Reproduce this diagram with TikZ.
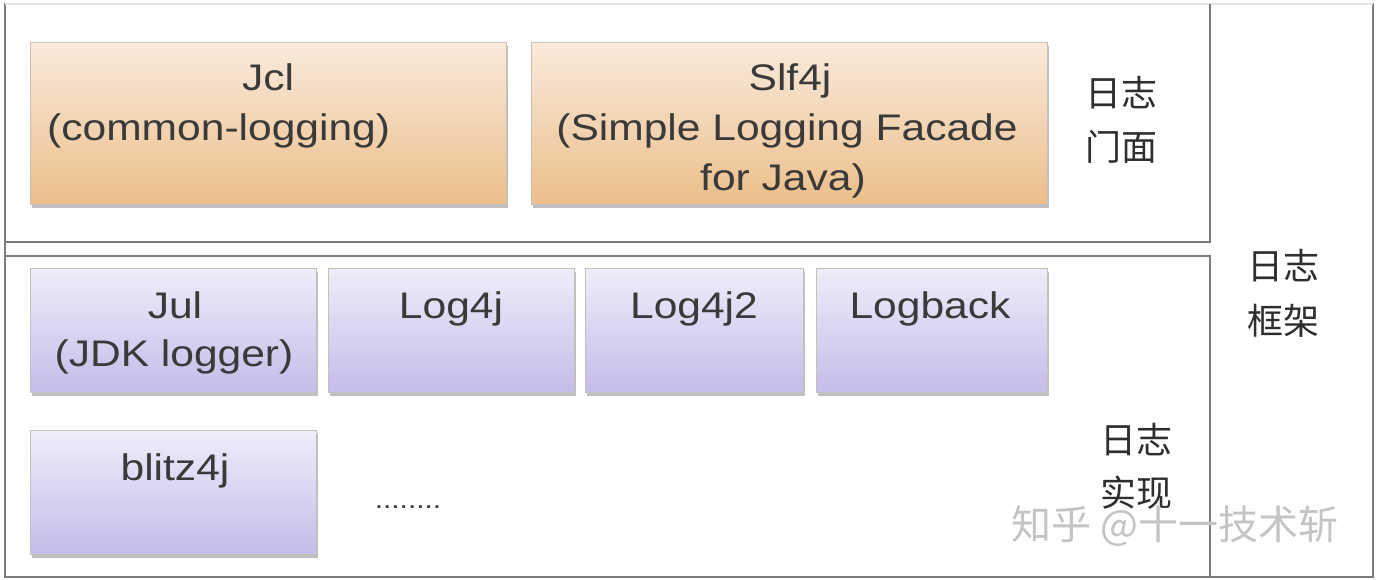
\documentclass[tikz,border=0pt]{standalone}
\usepackage{fontspec}
\setmainfont{Liberation Sans}[FakeStretch=1.15]
\newfontfamily\cjk{Noto Sans CJK SC}
\usetikzlibrary{shadows}
\definecolor{framegray}{HTML}{7C7C7C}
\definecolor{txtgray}{HTML}{3A3A3A}
\definecolor{cjkgray}{HTML}{2E2E2E}
\definecolor{wmgray}{HTML}{C4C4C4}
\definecolor{facadetop}{HTML}{F9EADB}
\definecolor{facadebot}{HTML}{ECBE8A}
\definecolor{impltop}{HTML}{EEEDF9}
\definecolor{implbot}{HTML}{C5BCEA}
\definecolor{boxedge}{HTML}{B8B0A8}
\begin{document}
\begin{tikzpicture}[x=1pt,y=-1pt,
  framebox/.style={draw=framegray,line width=2.5pt},
  facadebox/.style={draw=boxedge!80,line width=0.6pt,top color=facadetop,bottom color=facadebot,
     drop shadow={shadow xshift=1.5pt,shadow yshift=-4pt,opacity=0.45,fill=black!55},
     anchor=north west,inner sep=0pt},
  implbox/.style={draw=boxedge!80,line width=0.6pt,top color=impltop,bottom color=implbot,
     drop shadow={shadow xshift=1.5pt,shadow yshift=-4pt,opacity=0.45,fill=black!55},
     anchor=north west,inner sep=0pt},
  lbl/.style={anchor=base,inner sep=0pt,text=txtgray,font=\fontsize{37}{50}\selectfont},
  cjklbl/.style={anchor=center,inner sep=0pt,text=cjkgray,font=\cjk\fontsize{36}{40}\selectfont},
]
\useasboundingbox (0,0) rectangle (1382,579);
\fill[white] (0,0) rectangle (1382,579);

% frames
\draw[framebox] (5,4) rectangle (1373,577);
\draw[draw=white!80!framegray,line width=2.5pt] (5,4) -- (1373,4);
\draw[framebox] (5,242) -- (1210,242) -- (1210,4);
\draw[framebox] (5,256) -- (1210,256) -- (1210,577);

% facade boxes
\node[facadebox,minimum width=476pt,minimum height=162pt] (jcl) at (30,42) {};
\node[facadebox,minimum width=516pt,minimum height=162pt] (slf) at (531,42) {};

% implementation boxes
\node[implbox,minimum width=286pt,minimum height=124pt] (jul) at (30,268) {};
\node[implbox,minimum width=246pt,minimum height=124pt] (log4j) at (328,268) {};
\node[implbox,minimum width=218pt,minimum height=124pt] (log4j2) at (585,268) {};
\node[implbox,minimum width=231pt,minimum height=124pt] (logback) at (816,268) {};
\node[implbox,minimum width=286pt,minimum height=124pt] (blitz) at (30,430) {};

% texts
\node[lbl] (t1) at (268,90) {Jcl};
\node[lbl,anchor=base west] (t2) at (47,140) {(common-logging)};
\node[lbl] (t3) at (790,90) {Slf4j};
\node[lbl] (t4) at (787,140) {(Simple Logging Facade};
\node[lbl] (t5) at (783,190) {for Java)};
\node[lbl] (t6) at (175,318) {Jul};
\node[lbl] (t7) at (174,366) {(JDK logger)};
\node[lbl] (t8) at (451,318) {Log4j};
\node[lbl] (t9) at (694,318) {Log4j2};
\node[lbl] (t10) at (930,318) {Logback};
\node[lbl] (t11) at (175,480) {blitz4j};
\node[lbl,font=\fontsize{26}{30}\selectfont] (dots) at (408,508) {........};

% chinese labels
\node[cjklbl] (c1) at (1121,93) {日志};
\node[cjklbl] (c2) at (1121,147) {门面};
\node[cjklbl] (c3) at (1283,266) {日志};
\node[cjklbl] (c4) at (1283,321) {框架};
\node[cjklbl] (c5) at (1136,440) {日志};
\node[cjklbl] (c6) at (1136,493) {实现};

% watermark
\node[anchor=center,inner sep=0pt,text=wmgray,font=\cjk\fontsize{40}{44}\selectfont] (wm) at (1175,526) {知乎 @十一技术斩};
\end{tikzpicture}
\end{document}
